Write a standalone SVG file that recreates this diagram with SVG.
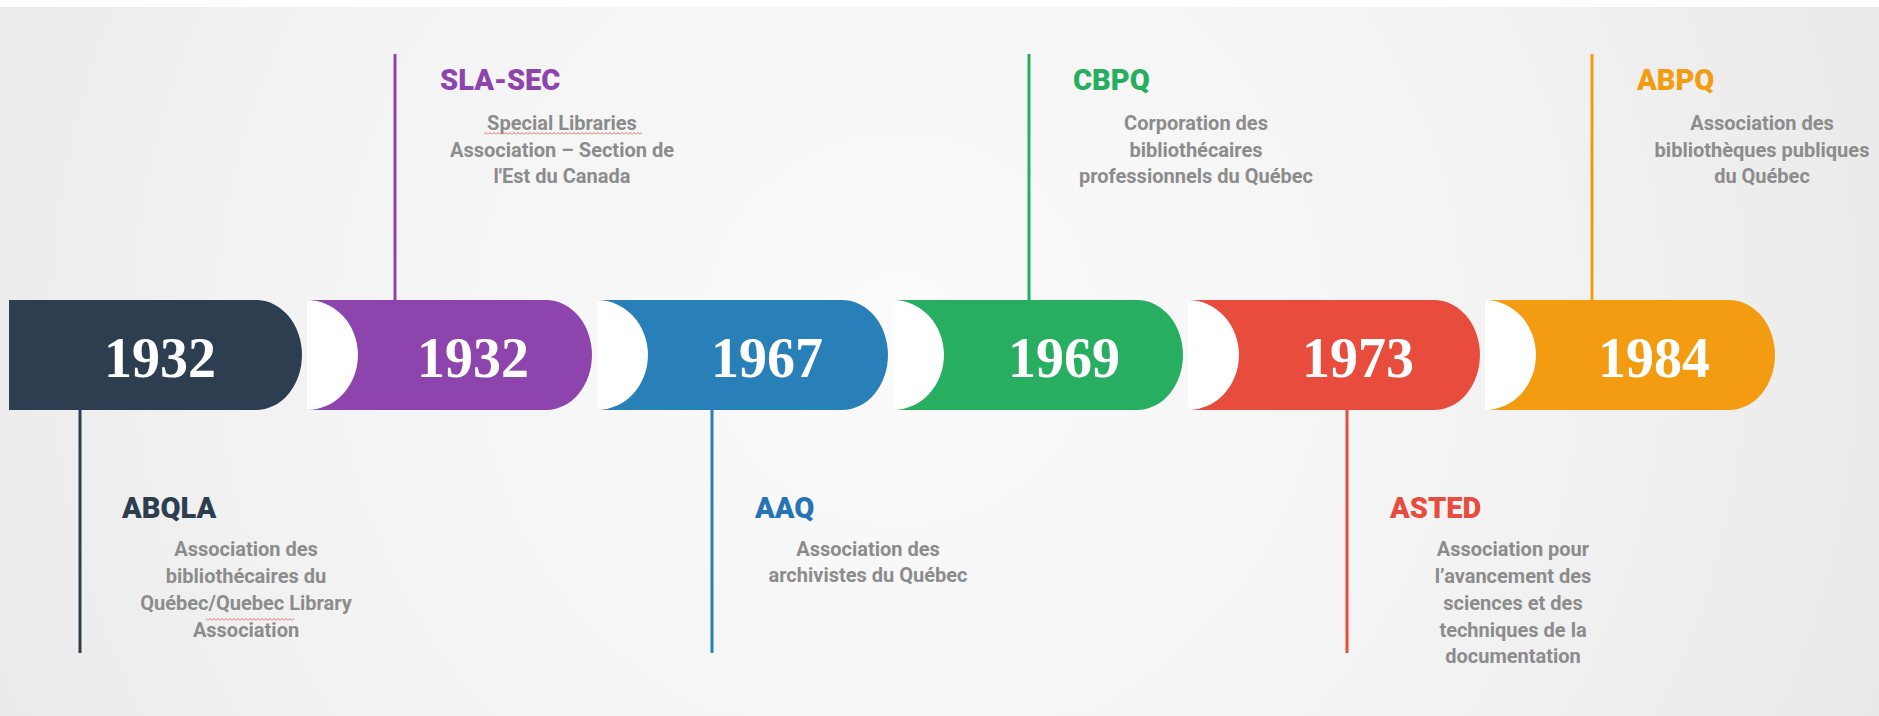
<svg xmlns="http://www.w3.org/2000/svg" width="1879" height="716" viewBox="0 0 1879 716">
  <defs>
    <radialGradient id="bg" cx="900" cy="330" r="1100" gradientUnits="userSpaceOnUse">
      <stop offset="0" stop-color="#fbfbfb"/>
      <stop offset="0.6" stop-color="#f2f2f2"/>
      <stop offset="1" stop-color="#e8e8e8"/>
    </radialGradient>
    <pattern id="squiggle" x="0" y="0" width="4" height="3" patternUnits="userSpaceOnUse">
      <path d="M0,2.5 L2,0.5 L4,2.5" fill="none" stroke="#e05a5a" stroke-width="0.9"/>
    </pattern>
    <style>
      .year { font-family: "Liberation Serif", "DejaVu Serif", serif; font-weight: 700; font-size: 56px; fill: #ffffff; text-anchor: middle; }
      .head { font-family: Roboto, "Liberation Sans", sans-serif; font-weight: 900; font-size: 29px; }
      .desc { font-family: Roboto, "Liberation Sans", sans-serif; font-weight: 700; font-size: 20px; fill: #8c8c8c; text-anchor: middle; }
      .gap { fill: #ffffff; }
      .conn { stroke-width: 3; fill: none; }
    </style>
  </defs>

  <rect x="0" y="0" width="1879" height="716" fill="url(#bg)"/>
  <rect x="0" y="0" width="1879" height="7" fill="#ffffff"/>

  <g id="connectors">
    <line class="conn" x1="80" y1="410" x2="80" y2="653" stroke="#2c3e50"/>
    <line class="conn" x1="395" y1="54" x2="395" y2="300" stroke="#8e44ad"/>
    <line class="conn" x1="712" y1="410" x2="712" y2="653" stroke="#2980b9"/>
    <line class="conn" x1="1029" y1="54" x2="1029" y2="300" stroke="#27ae60"/>
    <line class="conn" x1="1347" y1="410" x2="1347" y2="653" stroke="#e74c3c"/>
    <line class="conn" x1="1592" y1="54" x2="1592" y2="300" stroke="#f39c12"/>
  </g>

  <g id="node-abqla">
    <path d="M9,300 H256 A46 55 0 0 1 256,410 H9 Z" fill="#2c3e50"/>
    <text class="year" x="160" y="377">1932</text>
    <text class="head" x="122" y="518" fill="#2c3e50">ABQLA</text>
    <text class="desc" x="246" y="556">Association des</text>
    <text class="desc" x="246" y="583">bibliothécaires du</text>
    <text class="desc" x="246" y="610">Québec/Quebec Library</text>
    <text class="desc" x="246" y="637">Association</text>
    <rect x="206" y="618" width="88" height="3" fill="url(#squiggle)"/>
  </g>

  <g id="node-sla-sec">
    <path class="gap" d="M307,300 A51 55 0 0 1 307,410 Z"/>
    <path d="M307,300 H546 A46 55 0 0 1 546,410 H307 A51 55 0 0 0 307,300 Z" fill="#8e44ad"/>
    <text class="year" x="473" y="377">1932</text>
    <text class="head" x="440" y="90" fill="#8e44ad">SLA-SEC</text>
    <text class="desc" x="562" y="130">Special Libraries</text>
    <text class="desc" x="562" y="157">Association – Section de</text>
    <text class="desc" x="562" y="183">l'Est du Canada</text>
    <rect x="484" y="132" width="158" height="3" fill="url(#squiggle)"/>
  </g>

  <g id="node-aaq">
    <path class="gap" d="M597,300 A51 55 0 0 1 597,410 Z"/>
    <path d="M597,300 H842 A46 55 0 0 1 842,410 H597 A51 55 0 0 0 597,300 Z" fill="#2980b9"/>
    <text class="year" x="767" y="377">1967</text>
    <text class="head" x="755" y="518" fill="#2574b5">AAQ</text>
    <text class="desc" x="868" y="556">Association des</text>
    <text class="desc" x="868" y="582">archivistes du Québec</text>
  </g>

  <g id="node-cbpq">
    <path class="gap" d="M893,300 A51 55 0 0 1 893,410 Z"/>
    <path d="M893,300 H1137 A46 55 0 0 1 1137,410 H893 A51 55 0 0 0 893,300 Z" fill="#27ae60"/>
    <text class="year" x="1064" y="377">1969</text>
    <text class="head" x="1073" y="90" fill="#27ae60">CBPQ</text>
    <text class="desc" x="1196" y="130">Corporation des</text>
    <text class="desc" x="1196" y="157">bibliothécaires</text>
    <text class="desc" x="1196" y="183">professionnels du Québec</text>
  </g>

  <g id="node-asted">
    <path class="gap" d="M1188,300 A51 55 0 0 1 1188,410 Z"/>
    <path d="M1188,300 H1434 A46 55 0 0 1 1434,410 H1188 A51 55 0 0 0 1188,300 Z" fill="#e74c3c"/>
    <text class="year" x="1358" y="377">1973</text>
    <text class="head" x="1390" y="518" fill="#e74c3c">ASTED</text>
    <text class="desc" x="1513" y="556">Association pour</text>
    <text class="desc" x="1513" y="583">l’avancement des</text>
    <text class="desc" x="1513" y="610">sciences et des</text>
    <text class="desc" x="1513" y="637">techniques de la</text>
    <text class="desc" x="1513" y="663">documentation</text>
  </g>

  <g id="node-abpq">
    <path class="gap" d="M1485,300 A51 55 0 0 1 1485,410 Z"/>
    <path d="M1485,300 H1729 A46 55 0 0 1 1729,410 H1485 A51 55 0 0 0 1485,300 Z" fill="#f39c12"/>
    <text class="year" x="1654" y="377">1984</text>
    <text class="head" x="1637" y="90" fill="#f39c12">ABPQ</text>
    <text class="desc" x="1762" y="130">Association des</text>
    <text class="desc" x="1762" y="157">bibliothèques publiques</text>
    <text class="desc" x="1762" y="183">du Québec</text>
  </g>
</svg>
